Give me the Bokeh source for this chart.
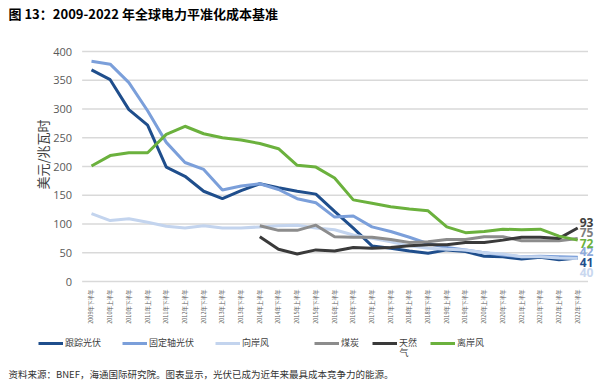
from bokeh.plotting import figure
from bokeh.models import Range1d, Legend, LegendItem, Label
from bokeh.core.properties import value
from bokeh.embed import file_html
from bokeh.resources import INLINE
import math

nan = float("nan")

categories = [
    "2009年下半年",
    "2010年上半年", "2010年下半年",
    "2011年上半年", "2011年下半年",
    "2012年上半年", "2012年下半年",
    "2013年上半年", "2013年下半年",
    "2014年上半年", "2014年下半年",
    "2015年上半年", "2015年下半年",
    "2016年上半年", "2016年下半年",
    "2017年上半年", "2017年下半年",
    "2018年上半年", "2018年下半年",
    "2019年上半年", "2019年下半年",
    "2020年上半年", "2020年下半年",
    "2021年上半年", "2021年下半年",
    "2022年上半年", "2022年下半年",
]

tracking_pv = [368, 351, 299, 272, 199, 183, 157, 144, 158, 170, 163, 157, 152, 122,
               93, 62, 58, 53, 49, 55, 52, 44, 43, 39, 42, 38, 41]
fixed_pv = [383, 378, 346, 297, 242, 207, 195, 159, 166, 170, 160, 144, 137, 112,
            114, 95, 87, 77, 66, 59, 55, 50, 46, 43, 44, 43, 42]
onshore_wind = [118, 106, 109, 103, 96, 93, 97, 93, 93, 95, 97, 98, 93, 90,
                81, 75, 69, 62, 58, 56, 55, 50, 48, 43, 43, 41, 40]
coal = [nan, nan, nan, nan, nan, nan, nan, nan, nan, 97, 89, 89, 98, 78,
        77, 77, 73, 68, 69, 73, 73, 78, 78, 71, 71, 71, 75]
gas = [nan, nan, nan, nan, nan, nan, nan, nan, nan, 78, 56, 48, 55, 53,
       59, 58, 59, 62, 64, 64, 68, 68, 72, 77, 77, 75, 93]
offshore_wind = [201, 219, 224, 224, 256, 270, 257, 250, 246, 240, 231, 202, 199, 180,
                 142, 136, 130, 126, 123, 95, 85, 87, 91, 90, 91, 79, 72]

y_ticks = [0, 50, 100, 150, 200, 250, 300, 350, 400]

series_names = ["跟踪光伏", "固定轴光伏", "向岸风", "煤炭", "天然", "离岸风"]
gas_name_wrap = "气"
series_values = [tracking_pv, fixed_pv, onshore_wind, coal, gas, offshore_wind]
series_colors = ["#1F4E8C", "#7B9FDA", "#C3D4EE", "#8C8C8C", "#3A3A3A", "#6BB13D"]
label_colors = ["#1F4E8C", "#8FAADC", "#C9D7EF", "#7F7F7F", "#404040", "#6BB13D"]
label_offsets = [-4.6, 6, -13.5, 6, 6, -3]

title_text = "图 13：2009-2022 年全球电力平准化成本基准"
y_title = "美元/兆瓦时"
footer_text = "资料来源：BNEF，海通国际研究院。图表显示，光伏已成为近年来最具成本竞争力的能源。"

x = list(range(len(categories)))

W, H = 599, 387
p = figure(width=W, height=H, output_backend="svg", toolbar_location=None,
           x_range=Range1d(-4.866, 27.166), y_range=Range1d(-184.3, 488.7),
           x_axis_location=None, y_axis_location=None,
           min_border=0, min_border_left=0, min_border_right=0,
           min_border_top=0, min_border_bottom=0)
p.outline_line_color = None
p.background_fill_color = "white"
p.border_fill_color = "white"
p.xgrid.visible = False
p.ygrid.visible = False

# horizontal grid lines
n = len(y_ticks)
p.segment(x0=[x[0] - 0.5] * n, y0=y_ticks, x1=[x[-1] + 0.55] * n, y1=y_ticks,
          line_color="#D9D9D9", line_width=1.5)

# y tick labels
p.text(x=[x[0] - 0.5] * n, y=y_ticks, text=[str(t) for t in y_ticks],
       x_offset=-10, text_align="right", text_baseline="middle",
       text_font=value("Open Sans"), text_font_size="11px", text_color="#595959")

# x category labels (rotated)
p.text(x=x, y=[0] * len(x), text=categories, y_offset=8, angle=math.pi / 2,
       text_align="right", text_baseline="middle",
       text_font=value("Noto Sans CJK SC"), text_font_size="5.5px", text_color="#595959")

renderers = []
for name, vals, col in zip(series_names, series_values, series_colors):
    r = p.line(x, vals, line_color=col, line_width=3)
    renderers.append(r)

for vals, col, off in zip(series_values, label_colors, label_offsets):
    last = vals[-1]
    p.add_layout(Label(x=x[-1], y=last, text=str(last), x_offset=2, y_offset=off,
                       text_baseline="middle", text_align="left",
                       text_font="Open Sans", text_font_size="12px",
                       text_font_style="bold", text_color=col))

# title, axis title, footer
p.add_layout(Label(x=8, y=H - 12.5, x_units="screen", y_units="screen", text=title_text,
                   text_align="left", text_baseline="middle",
                   text_font="Noto Sans CJK SC", text_font_size="13px",
                   text_font_style="bold", text_color="#000000"))
p.add_layout(Label(x=41.5, y=H - 154, x_units="screen", y_units="screen", text=y_title,
                   angle=math.pi / 2, text_align="center", text_baseline="middle",
                   text_font="Noto Sans CJK SC", text_font_size="13px",
                   text_color="#404040"))
p.add_layout(Label(x=8, y=H - 373.5, x_units="screen", y_units="screen", text=footer_text,
                   text_align="left", text_baseline="middle",
                   text_font="Noto Sans CJK SC", text_font_size="9.5px",
                   text_color="#333333"))

legend_style = dict(orientation="horizontal",
                    label_text_font="Noto Sans CJK SC", label_text_font_size="9px",
                    label_text_color="#404040", glyph_width=25, glyph_height=8,
                    label_standoff=2, padding=0, margin=0,
                    border_line_color=None, background_fill_alpha=0)
items = [LegendItem(label=nm, renderers=[r]) for nm, r in zip(series_names, renderers)]
legend_a = Legend(items=items[:3], location=(38, H - 349), spacing=21, **legend_style)
legend_b = Legend(items=items[3:], location=(314, H - 349), spacing=11, **legend_style)
p.add_layout(legend_a, "center")
p.add_layout(legend_b, "center")
p.add_layout(Label(x=399, y=H - 352, x_units="screen", y_units="screen", text=gas_name_wrap,
                   text_align="left", text_baseline="middle",
                   text_font="Noto Sans CJK SC", text_font_size="9px",
                   text_color="#404040"))

open("out.html", "w").write(file_html(p, INLINE))
